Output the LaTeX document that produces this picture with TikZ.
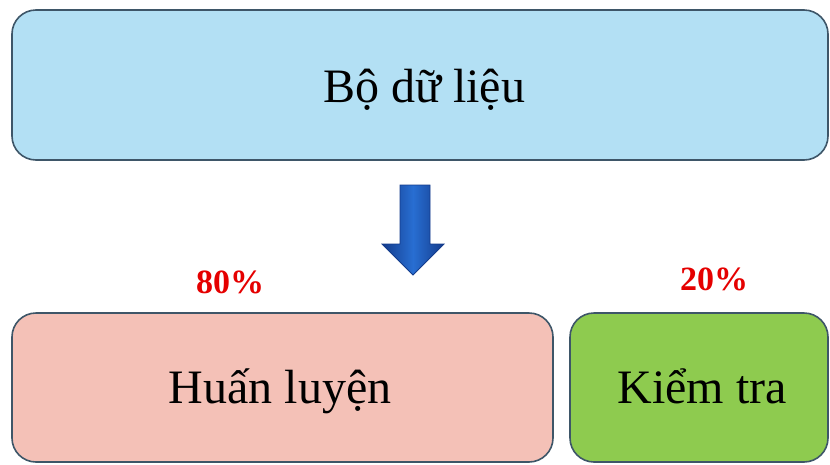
\documentclass[tikz,border=0pt]{standalone}
\usepackage{fontspec}
\setmainfont{Liberation Serif}
\definecolor{topfill}{RGB}{179,224,244}
\definecolor{pinkfill}{RGB}{244,193,183}
\definecolor{greenfill}{RGB}{142,203,79}
\definecolor{edgec}{RGB}{62,86,104}
\definecolor{arrowblue}{RGB}{40,110,210}
\definecolor{arrowdark}{RGB}{20,60,140}
\tikzset{
  box/.style={draw=edgec, line width=1.6pt, rounded corners=24pt},
  lbl/.style={font=\fontsize{48}{58}\selectfont, text=black, anchor=base, inner sep=0pt},
  pct/.style={font=\bfseries\fontsize{34}{42}\selectfont, text=red!90!black, anchor=base, inner sep=0pt},
}
\begin{document}
\begin{tikzpicture}[x=1pt,y=-1pt]
\useasboundingbox (0,0) rectangle (830,464);
\fill[white] (0,0) rectangle (830,464);
\draw[box, fill=topfill] (12,10) rectangle (828,160);
\node[lbl] (top) at (424,102) {Bộ dữ liệu};
\draw[box, fill=pinkfill] (12,313) rectangle (553,462);
\node[lbl] (train) at (280,403) {Huấn luyện};
\draw[box, fill=greenfill] (570,313) rectangle (828,462);
\node[lbl] (test) at (702,403) {Kiểm tra};
\node[pct] (p80) at (230,293) {80\%};
\node[pct] (p20) at (714,290) {20\%};
\draw[arrowdark, line width=0.8pt, left color=arrowdark, right color=arrowdark, middle color=arrowblue]
  (400,185) -- (430,185) -- (430,244) -- (444,244) -- (413,275) -- (382,244) -- (400,244) -- cycle;
\end{tikzpicture}
\end{document}
